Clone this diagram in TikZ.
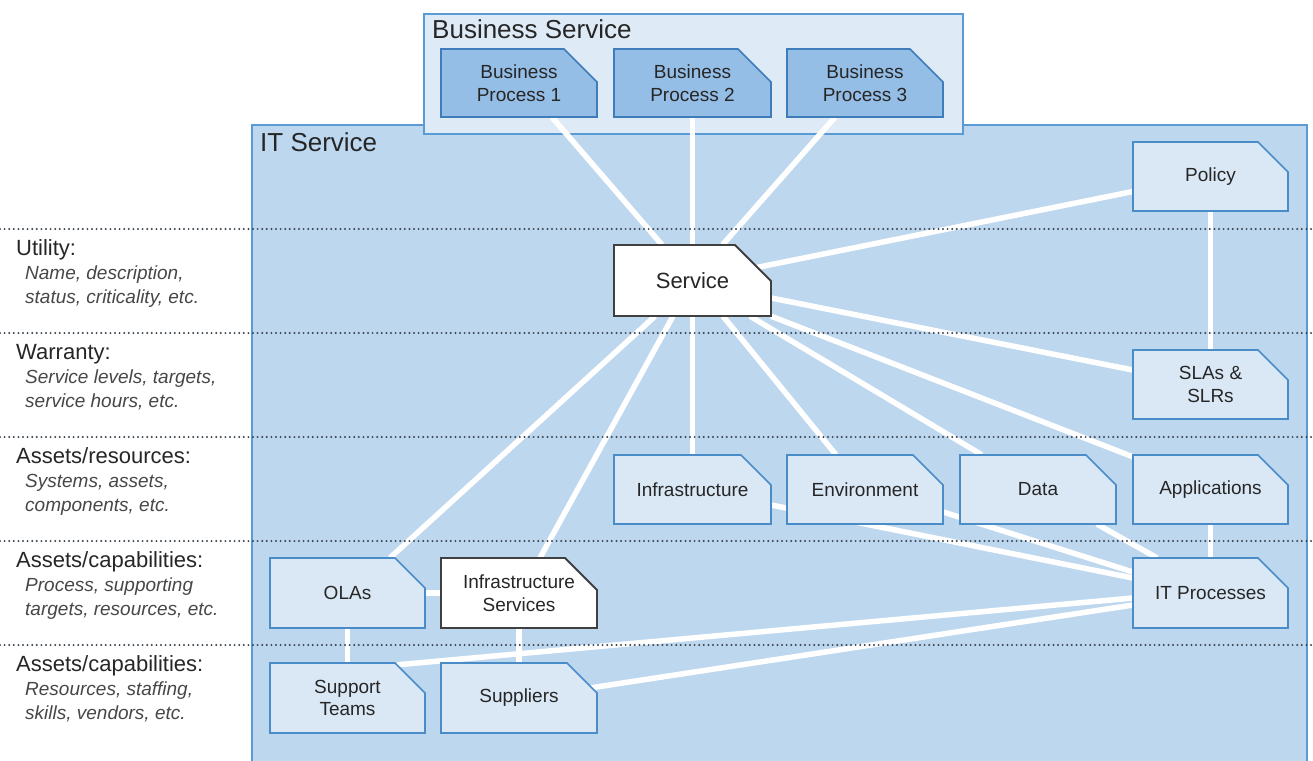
\documentclass[tikz,border=0pt]{standalone}
\usepackage{fontspec}
\setmainfont{Liberation Sans}
\usetikzlibrary{calc}

\definecolor{itfill}{HTML}{BDD7EE}
\definecolor{bsfill}{HTML}{DEEBF7}
\definecolor{panelline}{HTML}{5B9BD5}
\definecolor{procfill}{HTML}{95BEE6}
\definecolor{procline}{HTML}{3E7DBA}
\definecolor{cardfill}{HTML}{DAE8F6}
\definecolor{cardline}{HTML}{4A8CC8}
\definecolor{inkdark}{HTML}{262626}
\definecolor{greyline}{HTML}{404040}
\definecolor{dotgrey}{HTML}{3C4550}

\pgfdeclarelayer{panels}
\pgfdeclarelayer{wires}
\pgfsetlayers{panels,wires,main}

% #1 style, #2 corner cut, #3 name, #4 x1, #5 y1, #6 x2, #7 y2, #8 text
\newcommand\cardshape[8]{%
  \path[#1] (#4,#5) -- ({#6-#2},#5) -- (#6,{#5+#2}) -- (#6,#7) -- (#4,#7) -- cycle;
  \node[cardtext, minimum width={#6-#4}, minimum height={#7-#5}]
    (#3) at ({(#4+#6)/2},{(#5+#7)/2}) {#8};
}

\tikzset{
  procbox/.style={fill=procfill, draw=procline, line width=1.6pt},
  lightbox/.style={fill=cardfill, draw=cardline, line width=1.6pt},
  whitebox/.style={fill=white, draw=greyline, line width=1.8pt},
  cardtext/.style={inner sep=0pt, align=center, text=inkdark,
    font=\fontsize{19}{22.5}\selectfont},
  wire/.style={draw=white, line width=5.5pt},
  band/.style={draw=dotgrey, line width=2.2pt, line cap=round,
    dash pattern=on 0pt off 4.6pt},
  header/.style={anchor=base west, inner sep=0pt, text=inkdark,
    font=\fontsize{22}{26}\selectfont},
  detail/.style={anchor=base west, inner sep=0pt, text=inkdark!85,
    font=\fontsize{19}{24}\selectfont\itshape},
  paneltitle/.style={anchor=base west, inner sep=0pt, text=inkdark,
    font=\fontsize{26}{30}\selectfont},
}

\begin{document}
\begin{tikzpicture}[x=1pt, y=-1pt]
\useasboundingbox (0,0) rectangle (1313,760);

% page ground and panels
\begin{pgfonlayer}{panels}
  \fill[white] (0,0) rectangle (1313,760);
  \draw[fill=itfill, draw=panelline, line width=2pt] (252,125) rectangle (1307,762);
  \draw[fill=bsfill, draw=panelline, line width=2pt] (424,14) rectangle (963,134);
\end{pgfonlayer}
\node[paneltitle] (bstitle) at (432,39) {Business Service};
\node[paneltitle] (ittitle) at (260,151) {IT Service};

% layer bands
\foreach \yy in {229,333,437,541,645}
  \draw[band] (0,\yy) -- (1313,\yy);

% band labels
\node[header] (l1) at (16,255) {Utility:};
\node[detail] (l1a) at (25,279) {Name, description,};
\node[detail] (l1b) at (25,303) {status, criticality, etc.};
\node[header] (l2) at (16,359) {Warranty:};
\node[detail] (l2a) at (25,383) {Service levels, targets,};
\node[detail] (l2b) at (25,407) {service hours, etc.};
\node[header] (l3) at (16,463) {Assets/resources:};
\node[detail] (l3a) at (25,487) {Systems, assets,};
\node[detail] (l3b) at (25,511) {components, etc.};
\node[header] (l4) at (16,567) {Assets/capabilities:};
\node[detail] (l4a) at (25,591) {Process, supporting};
\node[detail] (l4b) at (25,615) {targets, resources, etc.};
\node[header] (l5) at (16,671) {Assets/capabilities:};
\node[detail] (l5a) at (25,695) {Resources, staffing,};
\node[detail] (l5b) at (25,719) {skills, vendors, etc.};

% cards
\cardshape{procbox}{33}{bp1}{441}{49}{597}{117}{Business\\Process 1}
\cardshape{procbox}{33}{bp2}{614}{49}{771}{117}{Business\\Process 2}
\cardshape{procbox}{33}{bp3}{787}{49}{943}{117}{Business\\Process 3}
\cardshape{whitebox}{36}{svc}{614}{245}{771}{316}{\fontsize{22}{26}\selectfont Service}
\cardshape{lightbox}{30}{policy}{1133}{142}{1288}{211}{Policy}
\cardshape{lightbox}{30}{sla}{1133}{350}{1288}{419}{SLAs \&\\SLRs}
\cardshape{lightbox}{30}{infra}{614}{455}{771}{524}{Infrastructure}
\cardshape{lightbox}{30}{env}{787}{455}{943}{524}{Environment}
\cardshape{lightbox}{30}{data}{960}{455}{1116}{524}{Data}
\cardshape{lightbox}{30}{apps}{1133}{455}{1288}{524}{Applications}
\cardshape{lightbox}{30}{itp}{1133}{558}{1288}{628}{IT Processes}
\cardshape{lightbox}{30}{ola}{270}{558}{425}{628}{OLAs}
\cardshape{whitebox}{32}{isvc}{441}{558}{597}{628}{Infrastructure\\Services}
\cardshape{lightbox}{30}{team}{270}{663}{425}{733}{Support\\Teams}
\cardshape{lightbox}{30}{supl}{441}{663}{597}{733}{Suppliers}

% connectors
\begin{pgfonlayer}{wires}
  \draw[wire] ([xshift=33pt]bp1.south) -- ([xshift=-30.5pt]svc.north);
  \draw[wire] (bp2.south) -- (svc.north);
  \draw[wire] ([xshift=-30pt]bp3.south) -- ([xshift=30pt]svc.north);
  \draw[wire] (svc.center) -- ([yshift=-15pt]policy.west);
  \draw[wire] ([yshift=-17.5pt]svc.east) -- ([yshift=14.5pt]sla.west);
  \draw[wire] (svc.south east) -- ([yshift=-2pt]apps.north west);
  \draw[wire] ([xshift=57.5pt]svc.south) -- ([xshift=22pt]data.north west);
  \draw[wire] ([xshift=30.5pt]svc.south) -- ([xshift=-29pt]env.north);
  \draw[wire] (svc.south) -- (infra.north);
  \draw[wire] ([xshift=-19.5pt]svc.south) -- ([xshift=21pt]isvc.north);
  \draw[wire] ([xshift=-37.5pt]svc.south) -- ([xshift=42.5pt]ola.north);
  \draw[wire] (policy.south) -- (sla.north);
  \draw[wire] (apps.south) -- (itp.north);
  \draw[wire] ([xshift=59pt]data.south) -- ([xshift=-53.5pt]itp.north);
  \draw[wire] ([yshift=-22.5pt]env.east) -- ([yshift=21pt]itp.west);
  \draw[wire] ([yshift=-15.5pt]infra.east) -- ([yshift=15pt]itp.west);
  \draw[wire] ([yshift=-5pt]itp.west) -- ([xshift=-28pt,yshift=-2pt]team.north east);
  \draw[wire] ([yshift=-12pt]itp.west) -- ([xshift=-6pt,yshift=-25pt]supl.north east);
  \draw[wire] (ola.east) -- (isvc.west);
  \draw[wire] (ola.south) -- (team.north);
  \draw[wire] (isvc.south) -- (supl.north);
\end{pgfonlayer}
\end{tikzpicture}
\end{document}
